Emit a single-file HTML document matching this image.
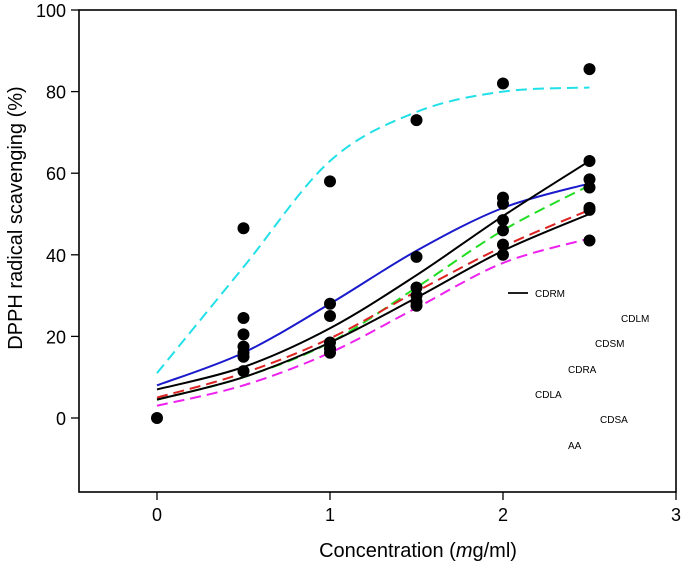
<!DOCTYPE html>
<html><head><meta charset="utf-8"><style>
body{margin:0;background:#fff}
svg{display:block;font-family:"Liberation Sans",Arial,sans-serif}
</style></head><body>
<svg id="chart" width="685" height="565"></svg>
<script>
const xs=[0,0.5,1,1.5,2,2.5];
const cyanFit=[11,37,63,75,80,81];
const blueFit=[8,16,28,41,51.5,57.5];
const blackSteepFit=[7,12.5,22,35,49.5,63];
const greenFit=[4.5,10,18.5,32,46,57];
const redFit=[5,11,19.5,31,42,51];
const blackLowFit=[4.5,10,18.5,29.5,41,50];
const magentaFit=[3,8,16,27,38,44];
const ptX=[0,0.5,0.5,0.5,0.5,0.5,0.5,0.5,1,1,1,1,1,1,1.5,1.5,1.5,1.5,1.5,1.5,2,2,2,2,2,2,2,2.5,2.5,2.5,2.5,2.5,2.5,2.5];
const ptY=[0,46.5,24.5,20.5,17.5,16,15,11.5,58,28,25,18.5,17,16,73,39.5,32,30,28.5,27.5,82,54,52.5,48.5,46,42.5,40,85.5,63,58.5,56.5,51.5,51,43.5];
const xTicks=[0,1,2,3];
const yTicks=[0,20,40,60,80,100];
const legendLabels=["CDRM","CDLM","CDSM","CDRA","CDLA","CDSA","AA"];

const NS="http://www.w3.org/2000/svg";
const svg=document.getElementById('chart');
const L=79,R=676,T=10,B=492;
const X=v=>157+v*173;
const Y=v=>418-v*4.08;
function mk(tag,attrs,parent){const e=document.createElementNS(NS,tag);for(const k in attrs)e.setAttribute(k,attrs[k]);(parent||svg).appendChild(e);return e;}

const frame=mk('rect',{x:L,y:T,width:R-L,height:B-T,fill:'none',stroke:'#000','stroke-width':1.6});



xTicks.forEach(t=>{
  const l=mk('line',{x1:X(t),x2:X(t),y1:B,y2:B+8,stroke:'#000','stroke-width':1.3});
  
  
  const tx=mk('text',{x:X(t),y:B+29,'text-anchor':'middle','font-size':18});
  tx.textContent=t;
  
  
});
yTicks.forEach(t=>{
  const l=mk('line',{x1:L-8,x2:L,y1:Y(t),y2:Y(t),stroke:'#000','stroke-width':1.3});
  
  
  const tx=mk('text',{x:L-13,y:Y(t)+7,'text-anchor':'end','font-size':18});
  tx.textContent=t;
  
  
});

function smooth(vals){
  const p=xs.map((x,i)=>[X(x),Y(vals[i])]);
  let d='M'+p[0][0]+','+p[0][1];
  for(let i=0;i<p.length-1;i++){
    const p0=p[i-1]||p[i],p1=p[i],p2=p[i+1],p3=p[i+2]||p[i+1];
    const c1=[p1[0]+(p2[0]-p0[0])/6,p1[1]+(p2[1]-p0[1])/6];
    const c2=[p2[0]-(p3[0]-p1[0])/6,p2[1]-(p3[1]-p1[1])/6];
    d+=` C${c1[0]},${c1[1]} ${c2[0]},${c2[1]} ${p2[0]},${p2[1]}`;
  }
  return d;
}
const series=[
 [cyanFit,'#22e0e8','11,6','cyan-fit-curve'],
 [blueFit,'#1a1acc','','blue-fit-curve'],
 [greenFit,'#22dd22','11,6','green-fit-curve'],
 [redFit,'#dd2222','11,6','red-fit-curve'],
 [magentaFit,'#ee22ee','11,6','magenta-fit-curve'],
 [blackLowFit,'#000','','black-lower-fit-curve'],
 [blackSteepFit,'#000','','black-steep-fit-curve']
];
series.forEach(s=>{
  const a={d:smooth(s[0]),fill:'none',stroke:s[1],'stroke-width':2};
  if(s[2])a['stroke-dasharray']=s[2];
  const p=mk('path',a);
  
  
});
ptX.forEach((x,i)=>{
  const c=mk('circle',{cx:X(x),cy:Y(ptY[i]),r:6,fill:'#000'});
  
  
});

const lg=mk('line',{x1:508,x2:528,y1:293,y2:293,stroke:'#000','stroke-width':1.8});


const lpos=[[535,297],[621,322],[595,347],[568,373],[535,398],[600,423],[568,449]];
legendLabels.forEach((s,i)=>{
  const t=mk('text',{x:lpos[i][0],y:lpos[i][1],'font-size':10});
  t.textContent=s;
  
  
});

const yt=mk('text',{x:0,y:0,'font-size':20,'text-anchor':'middle',transform:'translate(22,218) rotate(-90)'});
yt.textContent='DPPH radical scavenging (%)';


const xt=mk('text',{x:418,y:557,'font-size':20,'text-anchor':'middle'});
xt.innerHTML='Concentration (<tspan font-style="italic">m</tspan>g/ml)';


</script>
</body></html>
